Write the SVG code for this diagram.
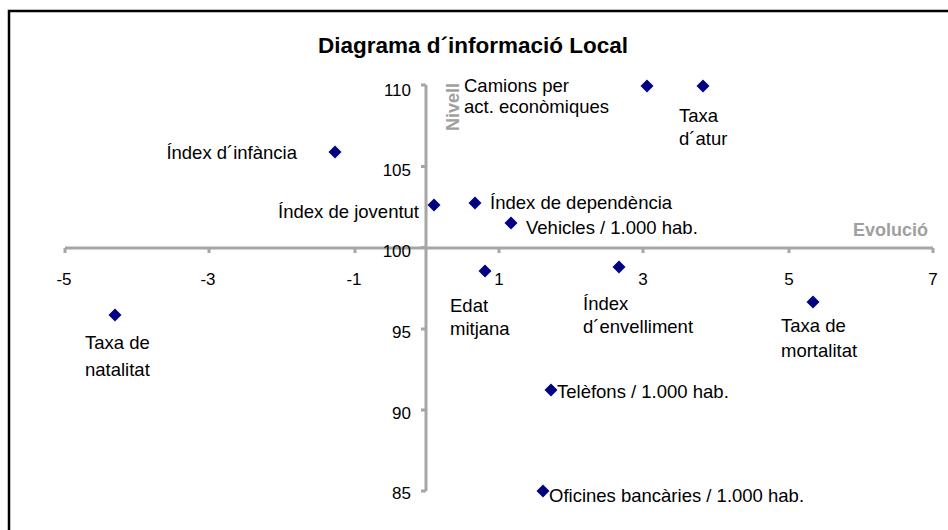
<svg xmlns="http://www.w3.org/2000/svg" xmlns:xlink="http://www.w3.org/1999/xlink" width="948" height="530" viewBox="0 0 948 530">
<style>
.t{font-family:"Liberation Sans",Arial,sans-serif;fill:#000}
.title{font-size:22.5px;font-weight:bold}
.tick{font-size:17px}
.lbl{font-size:18.5px}
.axt{font-family:"Liberation Sans",Arial,sans-serif;font-size:18px;font-weight:bold;fill:#a0a0a0}
.ax{stroke:#a6a6a6;stroke-width:3;fill:none}
</style>
<defs>
<path id="dia" d="M0,-6.5 L6.5,0 L0,6.5 L-6.5,0 Z" fill="#000080"/>
</defs>
<rect x="0" y="0" width="948" height="530" fill="#fff"/>
<rect x="9" y="11" width="960" height="540" fill="#fff" stroke="#000" stroke-width="2.5"/>
<text class="t title" x="473" y="53" text-anchor="middle">Diagrama d´informació Local</text>
<g id="axes">
<path class="ax" d="M65,248 H933 M65,248 v5 M209,248 v5 M355,248 v5 M499,248 v5 M643,248 v5 M789,248 v5 M933,248 v5"/>
<path class="ax" d="M426,85 V491 M421,85 H426 M421,166.5 H426 M421,247.5 H426 M421,329 H426 M421,410 H426 M421,491 H426"/>
<g class="t tick" text-anchor="middle">
<text x="64" y="285">-5</text>
<text x="208" y="285">-3</text>
<text x="354" y="285">-1</text>
<text x="499" y="285">1</text>
<text x="643" y="285">3</text>
<text x="789" y="285">5</text>
<text x="933" y="285">7</text>
</g>
<g class="t tick" text-anchor="end">
<text x="411" y="96">110</text>
<text x="411" y="176">105</text>
<text x="411" y="257">100</text>
<text x="411" y="338">95</text>
<text x="411" y="419">90</text>
<text x="411" y="499">85</text>
</g>
<text class="axt" x="928" y="236" text-anchor="end">Evolució</text>
<text class="axt" transform="translate(459,107) rotate(-90)" text-anchor="middle">Nivell</text>
</g>
<g id="connectors"></g>
<g id="camions"><use xlink:href="#dia" x="647" y="86"/><text class="t lbl" x="464" y="92">Camions per</text><text class="t lbl" x="464" y="113">act. econòmiques</text></g>
<g id="atur"><use xlink:href="#dia" x="703" y="86"/><text class="t lbl" x="679" y="122">Taxa</text><text class="t lbl" x="679" y="145">d´atur</text></g>
<g id="infancia"><use xlink:href="#dia" x="335" y="152"/><text class="t lbl" x="297" y="159" text-anchor="end">Índex d´infància</text></g>
<g id="joventut"><use xlink:href="#dia" x="434" y="205"/><text class="t lbl" x="419" y="218" text-anchor="end">Índex de joventut</text></g>
<g id="dependencia"><use xlink:href="#dia" x="475" y="203"/><text class="t lbl" x="490" y="209">Índex de dependència</text></g>
<g id="vehicles"><use xlink:href="#dia" x="511" y="223"/><text class="t lbl" x="526" y="234">Vehicles / 1.000 hab.</text></g>
<g id="edat"><use xlink:href="#dia" x="485" y="271"/><text class="t lbl" x="450" y="312">Edat</text><text class="t lbl" x="450" y="335">mitjana</text></g>
<g id="envelliment"><use xlink:href="#dia" x="619" y="267"/><text class="t lbl" x="583" y="310">Índex</text><text class="t lbl" x="583" y="333">d´envelliment</text></g>
<g id="mortalitat"><use xlink:href="#dia" x="813" y="302"/><text class="t lbl" x="781" y="332">Taxa de</text><text class="t lbl" x="781" y="357">mortalitat</text></g>
<g id="natalitat"><use xlink:href="#dia" x="115" y="315"/><text class="t lbl" x="85" y="349">Taxa de</text><text class="t lbl" x="85" y="376">natalitat</text></g>
<g id="telefons"><use xlink:href="#dia" x="551" y="390"/><text class="t lbl" x="557" y="398">Telèfons / 1.000 hab.</text></g>
<g id="oficines"><use xlink:href="#dia" x="543" y="491"/><text class="t lbl" x="549" y="502">Oficines bancàries / 1.000 hab.</text></g>
</svg>
